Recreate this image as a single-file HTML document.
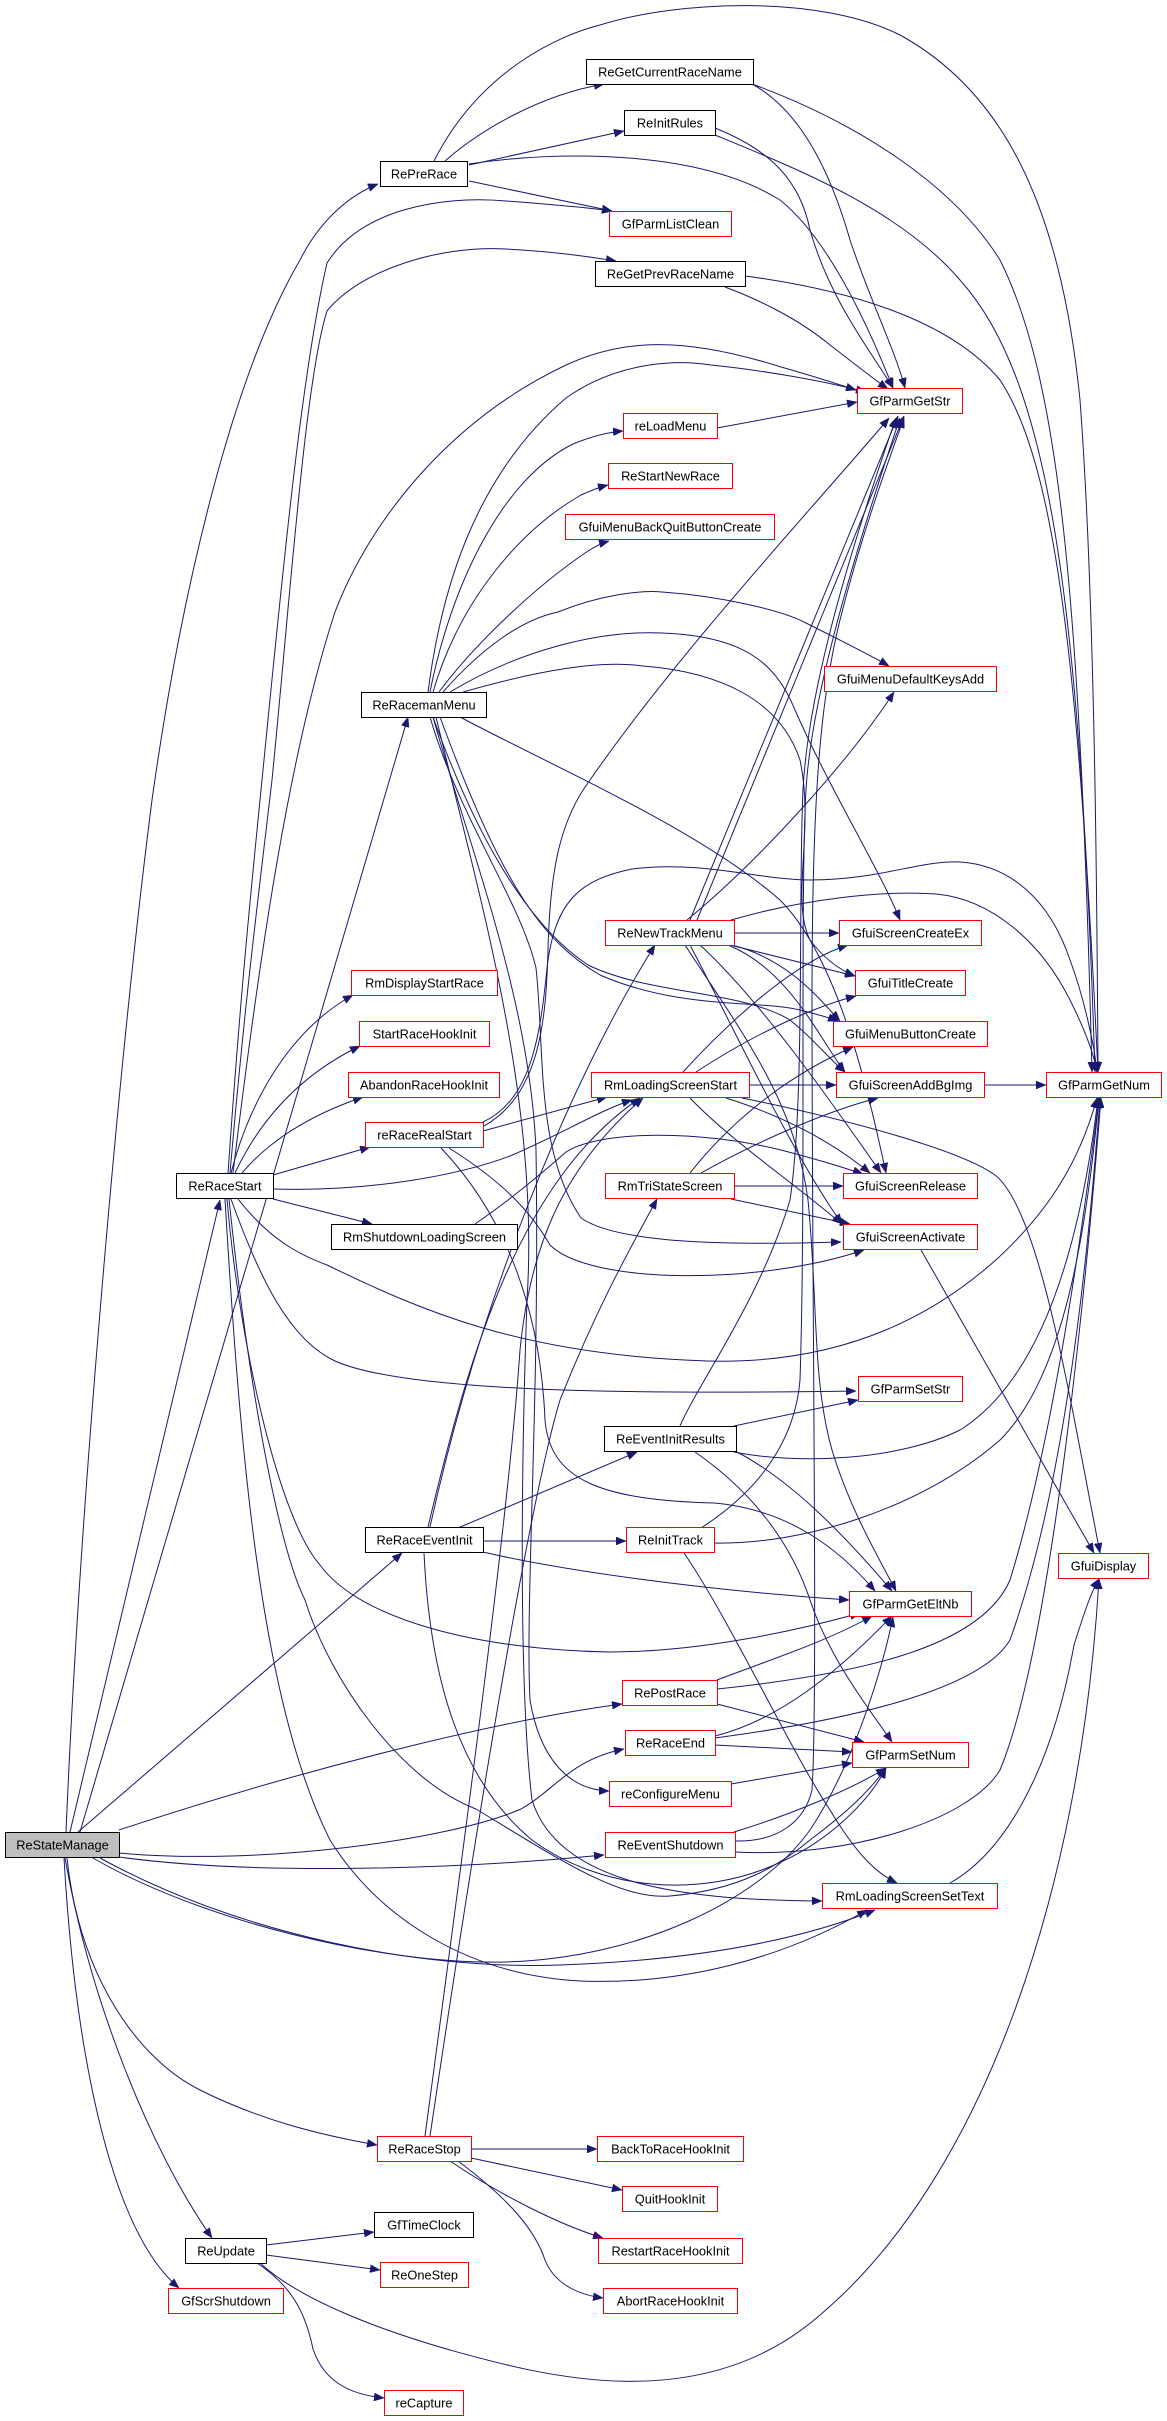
<!DOCTYPE html>
<html><head><meta charset="utf-8"><style>
html,body{margin:0;padding:0;background:#fff;}
svg{display:block;}
.e{fill:none;stroke:#191970;stroke-width:1;marker-end:url(#a);}
.n rect{fill:#fff;stroke-width:1;}
.r rect{stroke:#ff0000;}
.b rect{stroke:#000;}
text{font-family:"Liberation Sans",Helvetica,Arial,sans-serif;font-size:12.8px;text-anchor:middle;fill:#000;}
</style></head><body>
<svg width="1167" height="2421" viewBox="0 0 1167 2421" xmlns="http://www.w3.org/2000/svg">
<defs><marker id="a" markerUnits="userSpaceOnUse" markerWidth="10" markerHeight="8" refX="10" refY="4" orient="auto"><path d="M0,0 L10,4 L0,8 z" fill="#191970" stroke="#191970" stroke-width="0.5"/></marker></defs>
<g>
<!-- RePreRace -->
<path class="e" d="M445,161 C480,130 540,95 604,84"/>
<path class="e" d="M469,165 L624,131"/>
<path class="e" d="M469,181 L612,211"/>
<path class="e" d="M469,164 C560,150 700,150 780,200 C830,240 870,330 893,388"/>
<path class="e" d="M434,161 C480,70 560,35 600,25 C680,0 820,-5 900,35 C1000,90 1060,200 1080,400 C1095,600 1097,900 1098,1072"/>
<!-- ReGetCurrentRaceName -->
<path class="e" d="M752,84 C800,110 830,170 850,240 C870,300 895,350 905,388"/>
<path class="e" d="M752,84 C850,120 950,180 1000,260 C1060,380 1080,600 1092,1072"/>
<!-- ReInitRules -->
<path class="e" d="M715,128 C770,150 800,180 810,230 C830,300 870,350 893,388"/>
<path class="e" d="M715,135 C800,170 900,210 960,280 C1050,380 1080,600 1095,1072"/>
<!-- ReGetPrevRaceName -->
<path class="e" d="M725,287 C760,300 800,320 830,345 C860,368 875,380 888,389"/>
<path class="e" d="M745,276 C850,290 950,320 1000,380 C1060,470 1080,700 1098,1072"/>
<!-- reLoadMenu -->
<path class="e" d="M717,428 L857,402"/>
<!-- ReRacemanMenu -->
<path class="e" d="M428,692 C440,600 470,480 566,398 C620,360 680,360 711,365 C760,370 820,380 866,392"/>
<path class="e" d="M430,692 C450,590 500,480 573,444 C595,435 610,432 623,431"/>
<path class="e" d="M433,692 C460,600 520,530 581,495 C595,489 600,487 608,485"/>
<path class="e" d="M439,692 C470,650 530,590 588,551 C596,546 602,543 609,541"/>
<path class="e" d="M443,692 C480,650 520,620 558,612 C600,595 640,590 662,592 C720,596 780,610 804,622 C840,640 870,655 889,666"/>
<path class="e" d="M450,692 C520,650 600,630 662,633 C740,636 775,660 795,710 C830,790 880,870 900,920"/>
<path class="e" d="M463,692 C540,670 600,660 643,666 C720,672 780,700 800,760 C815,830 790,900 810,940 C825,960 840,970 855,976"/>
<path class="e" d="M460,717 C560,770 700,830 780,900 C840,960 870,1100 886,1173"/>
<path class="e" d="M430,717 C460,820 520,900 536,968 C545,1050 535,1150 581,1218 C620,1245 740,1245 841,1242"/>
<path class="e" d="M433,717 C470,850 530,1000 536,1150 C540,1400 525,1600 530,1700 C540,1760 570,1790 609,1791"/>
<path class="e" d="M436,717 C480,900 540,1100 527,1300 C520,1500 520,1700 532,1800 C560,1890 700,1900 822,1901"/>
<path class="e" d="M433,717 C470,820 520,920 588,965 C650,995 740,990 790,1020 C815,1040 830,1060 845,1072"/>
<path class="e" d="M440,717 C500,880 540,940 600,975 C680,1010 760,1000 800,1010 C820,1015 830,1018 838,1021"/>
<!-- ReRaceStart -->
<path class="e" d="M228,1173 C240,1000 250,900 262,780 C280,600 300,380 327,263 C360,210 440,195 506,201 C560,205 590,208 612,211"/>
<path class="e" d="M230,1173 C245,1000 258,900 272,780 C290,600 305,380 327,311 C360,270 440,245 506,249 C560,252 590,257 616,261"/>
<path class="e" d="M233,1173 C260,950 290,750 335,612 C370,520 450,420 566,365 C620,340 680,335 781,367 C820,378 840,385 856,390"/>
<path class="e" d="M231,1173 C250,1100 290,1030 353,995"/>
<path class="e" d="M235,1173 C260,1120 300,1075 360,1046"/>
<path class="e" d="M242,1173 C270,1140 310,1115 363,1097"/>
<path class="e" d="M273,1175 L370,1147"/>
<path class="e" d="M273,1189 C370,1192 460,1175 510,1156 C560,1135 600,1110 632,1100"/>
<path class="e" d="M273,1199 L372,1224"/>
<path class="e" d="M238,1199 C270,1240 300,1255 327,1265 C420,1310 520,1355 707,1361 C850,1365 940,1310 997,1259 C1050,1210 1080,1160 1097,1098"/>
<path class="e" d="M231,1199 C260,1280 290,1340 335,1361 C400,1390 600,1395 856,1391"/>
<path class="e" d="M227,1199 C240,1350 280,1520 320,1565 C360,1620 480,1650 610,1652 C700,1652 800,1630 860,1613"/>
<path class="e" d="M229,1199 C250,1400 280,1550 305,1600 C330,1680 400,1780 476,1809 C560,1860 620,1900 670,1896 C740,1890 780,1865 810,1840 C850,1810 870,1790 886,1768"/>
<path class="e" d="M225,1199 C240,1450 260,1700 330,1840 C380,1920 470,1975 580,1981 C680,1985 780,1960 867,1910"/>
<!-- ReStateManage -->
<path class="e" d="M66,1832 C80,1500 120,1050 152,800 C180,600 230,380 300,260 C320,220 350,195 378,184"/>
<path class="e" d="M70,1832 L220,1200"/>
<path class="e" d="M80,1832 L408,717"/>
<path class="e" d="M78,1832 L402,1553"/>
<path class="e" d="M119,1830 C300,1770 500,1720 622,1704"/>
<path class="e" d="M119,1853 C260,1866 450,1840 521,1809 C555,1790 570,1760 624,1749"/>
<path class="e" d="M119,1857 C250,1875 450,1870 604,1855"/>
<path class="e" d="M93,1858 C200,1920 380,1965 506,1962 C640,1958 760,1900 810,1830 C850,1770 880,1680 893,1617"/>
<path class="e" d="M100,1858 C240,1935 420,1970 560,1965 C700,1960 800,1940 875,1910"/>
<path class="e" d="M67,1858 C80,1980 140,2060 200,2090 C260,2120 320,2135 377,2145"/>
<path class="e" d="M65,1858 C90,2000 150,2150 212,2238"/>
<path class="e" d="M64,1858 C75,2050 110,2230 179,2288"/>
<!-- ReUpdate -->
<path class="e" d="M266,2245 L374,2232"/>
<path class="e" d="M266,2255 L380,2270"/>
<path class="e" d="M257,2263 C290,2285 305,2310 313,2349 C325,2385 355,2395 384,2398"/>
<path class="e" d="M260,2263 C300,2300 380,2330 450,2350 C540,2375 700,2420 820,2315 C980,2180 1080,1900 1099,1579"/>
<!-- ReRaceStop -->
<path class="e" d="M471,2149 L597,2149"/>
<path class="e" d="M471,2158 L622,2190"/>
<path class="e" d="M450,2161 C500,2195 560,2225 603,2238"/>
<path class="e" d="M458,2161 C510,2200 535,2230 545,2260 C555,2285 580,2295 603,2298"/>
<path class="e" d="M430,2136 C480,1800 530,1500 560,1400 C600,1300 635,1240 657,1199"/>
<path class="e" d="M425,2136 C470,1800 510,1500 520,1350 C530,1250 560,1170 643,1098"/>
<!-- reRaceRealStart -->
<path class="e" d="M483,1131 L607,1097"/>
<path class="e" d="M484,1126 C540,1095 546,1020 548,950 C550,870 560,820 590,780 C680,650 820,500 889,418"/>
<path class="e" d="M483,1122 C530,1100 540,1040 547,968 C555,900 580,880 632,869 C700,860 760,880 810,880 C880,880 920,860 960,862 C1010,865 1050,900 1070,960 C1085,1000 1095,1050 1097,1072"/>
<path class="e" d="M441,1148 C500,1210 540,1300 545,1420 C550,1480 600,1500 715,1503 C790,1510 840,1550 875,1591"/>
<path class="e" d="M449,1148 C500,1180 530,1210 550,1245 C590,1285 760,1285 864,1250"/>
<!-- RmShutdownLoadingScreen -->
<path class="e" d="M475,1224 C510,1200 540,1175 566,1152 C600,1130 700,1130 781,1150 C820,1160 845,1168 863,1174"/>
<!-- RmLoadingScreenStart -->
<path class="e" d="M683,1072 C740,1010 800,960 848,945"/>
<path class="e" d="M696,1072 C760,1030 820,1005 856,996"/>
<path class="e" d="M749,1085 L836,1085"/>
<path class="e" d="M726,1098 C780,1115 830,1140 870,1173"/>
<path class="e" d="M690,1098 C730,1140 790,1180 842,1224"/>
<path class="e" d="M742,1098 C850,1120 960,1150 995,1175 C1040,1210 1070,1400 1100,1553"/>
<!-- RmTriStateScreen -->
<path class="e" d="M690,1173 C740,1110 800,1070 853,1047"/>
<path class="e" d="M701,1173 C760,1140 830,1110 878,1098"/>
<path class="e" d="M735,1186 L843,1186"/>
<path class="e" d="M731,1199 L850,1224"/>
<!-- ReNewTrackMenu -->
<path class="e" d="M734,933 L839,933"/>
<path class="e" d="M730,945 L855,976"/>
<path class="e" d="M732,945 C790,960 820,1000 840,1021"/>
<path class="e" d="M728,945 C790,970 820,1040 845,1072"/>
<path class="e" d="M700,945 C760,1000 830,1100 881,1173"/>
<path class="e" d="M690,945 C740,1040 790,1150 842,1224"/>
<path class="e" d="M685,945 C740,1030 795,1100 808,1200 C818,1300 812,1380 832,1450 C850,1510 880,1560 896,1591"/>
<path class="e" d="M687,920 C760,860 850,760 894,692"/>
<path class="e" d="M690,920 L898,416"/>
<path class="e" d="M697,920 L904,416"/>
<path class="e" d="M731,920 C800,900 880,890 936,894 C990,899 1040,940 1070,1000 C1085,1030 1094,1055 1097,1072"/>
<!-- ReEventInitResults -->
<path class="e" d="M734,1426 L858,1400"/>
<path class="e" d="M734,1452 C800,1465 900,1460 960,1430 C1040,1380 1080,1250 1098,1098"/>
<path class="e" d="M737,1452 C790,1480 840,1530 892,1591"/>
<path class="e" d="M695,1452 C750,1490 790,1540 810,1600 C830,1660 870,1710 892,1742"/>
<path class="e" d="M680,1426 C700,1380 760,1300 790,1200 C805,1100 798,900 803,790 C808,690 850,550 896,418"/>
<!-- ReInitTrack -->
<path class="e" d="M701,1528 C760,1490 795,1440 800,1380 C806,1200 800,900 806,790 C811,700 852,560 900,418"/>
<path class="e" d="M714,1543 C800,1545 920,1510 1000,1440 C1060,1380 1085,1250 1099,1098"/>
<path class="e" d="M684,1553 C730,1620 790,1750 830,1810 C860,1860 880,1875 897,1883"/>
<!-- ReRaceEventInit -->
<path class="e" d="M458,1528 L637,1452"/>
<path class="e" d="M483,1541 L626,1541"/>
<path class="e" d="M483,1552 C560,1570 700,1590 849,1600"/>
<path class="e" d="M424,1553 C430,1680 460,1780 532,1840 C600,1890 700,1900 781,1862 C830,1840 870,1800 886,1768"/>
<path class="e" d="M430,1527 C480,1300 570,1080 655,945"/>
<path class="e" d="M428,1527 C470,1350 520,1180 640,1098"/>
<!-- RePostRace -->
<path class="e" d="M717,1680 C770,1660 830,1640 872,1616"/>
<path class="e" d="M717,1689 C850,1675 980,1650 1010,1580 C1050,1450 1080,1250 1099,1098"/>
<path class="e" d="M717,1704 L864,1742"/>
<!-- ReRaceEnd -->
<path class="e" d="M715,1736 C780,1720 840,1670 892,1616"/>
<path class="e" d="M715,1738 C850,1720 980,1690 1010,1640 C1060,1500 1085,1300 1100,1098"/>
<path class="e" d="M715,1745 L852,1752"/>
<!-- reConfigureMenu -->
<path class="e" d="M731,1784 L852,1763"/>
<!-- ReEventShutdown -->
<path class="e" d="M734,1832 C790,1815 850,1790 886,1768"/>
<path class="e" d="M735,1841 C780,1842 805,1820 812,1790 C818,1700 812,1300 812,1000 C812,800 820,700 840,620 C860,540 885,470 904,418"/>
<path class="e" d="M735,1852 C850,1858 970,1820 1000,1770 C1050,1650 1085,1300 1101,1098"/>
<!-- misc -->
<path class="e" d="M950,1883 C1000,1855 1050,1780 1074,1645 C1085,1610 1092,1590 1099,1579"/>
<path class="e" d="M921,1250 L1094,1553"/>
<path class="e" d="M984,1085 L1046,1085"/>
</g>
<g class="n">
<g class="b"><rect x="586.5" y="59.5" width="167" height="25"/><text x="670" y="76.5">ReGetCurrentRaceName</text></g>
<g class="b"><rect x="624.5" y="110.5" width="91" height="25"/><text x="670" y="127.5">ReInitRules</text></g>
<g class="b"><rect x="380.5" y="161.5" width="87" height="25"/><text x="424" y="178.5">RePreRace</text></g>
<g class="r"><rect x="609.5" y="211.5" width="122" height="25"/><text x="670.5" y="228.5">GfParmListClean</text></g>
<g class="b"><rect x="595.5" y="261.5" width="150" height="25"/><text x="670.5" y="278.5">ReGetPrevRaceName</text></g>
<g class="r"><rect x="857.5" y="388.5" width="105" height="25"/><text x="910" y="405.5">GfParmGetStr</text></g>
<g class="r"><rect x="623.5" y="413.5" width="94" height="25"/><text x="670.5" y="430.5">reLoadMenu</text></g>
<g class="r"><rect x="608.5" y="463.5" width="124" height="25"/><text x="670.5" y="480.5">ReStartNewRace</text></g>
<g class="r"><rect x="565.5" y="514.5" width="209" height="25"/><text x="670" y="531.5">GfuiMenuBackQuitButtonCreate</text></g>
<g class="r"><rect x="824.5" y="666.5" width="172" height="25"/><text x="910.5" y="683.5">GfuiMenuDefaultKeysAdd</text></g>
<g class="b"><rect x="361.5" y="692.5" width="125" height="25"/><text x="424" y="709.5">ReRacemanMenu</text></g>
<g class="r"><rect x="605.5" y="920.5" width="129" height="25"/><text x="670" y="937.5">ReNewTrackMenu</text></g>
<g class="r"><rect x="839.5" y="920.5" width="142" height="25"/><text x="910.5" y="937.5">GfuiScreenCreateEx</text></g>
<g class="r"><rect x="351.5" y="970.5" width="146" height="25"/><text x="424.5" y="987.5">RmDisplayStartRace</text></g>
<g class="r"><rect x="855.5" y="970.5" width="110" height="25"/><text x="910.5" y="987.5">GfuiTitleCreate</text></g>
<g class="r"><rect x="359.5" y="1021.5" width="130" height="25"/><text x="424.5" y="1038.5">StartRaceHookInit</text></g>
<g class="r"><rect x="833.5" y="1021.5" width="154" height="25"/><text x="910.5" y="1038.5">GfuiMenuButtonCreate</text></g>
<g class="r"><rect x="348.5" y="1072.5" width="151" height="25"/><text x="424" y="1089.5">AbandonRaceHookInit</text></g>
<g class="r"><rect x="591.5" y="1072.5" width="158" height="25"/><text x="670.5" y="1089.5">RmLoadingScreenStart</text></g>
<g class="r"><rect x="836.5" y="1072.5" width="148" height="25"/><text x="910.5" y="1089.5">GfuiScreenAddBgImg</text></g>
<g class="r"><rect x="1046.5" y="1072.5" width="115" height="25"/><text x="1104" y="1089.5">GfParmGetNum</text></g>
<g class="r"><rect x="365.5" y="1122.5" width="118" height="25"/><text x="424.5" y="1139.5">reRaceRealStart</text></g>
<g class="b"><rect x="176.5" y="1173.5" width="97" height="25"/><text x="225" y="1190.5">ReRaceStart</text></g>
<g class="r"><rect x="605.5" y="1173.5" width="129" height="25"/><text x="670" y="1190.5">RmTriStateScreen</text></g>
<g class="r"><rect x="843.5" y="1173.5" width="134" height="25"/><text x="910.5" y="1190.5">GfuiScreenRelease</text></g>
<g class="b"><rect x="331.5" y="1224.5" width="186" height="25"/><text x="424.5" y="1241.5">RmShutdownLoadingScreen</text></g>
<g class="r"><rect x="843.5" y="1224.5" width="134" height="25"/><text x="910.5" y="1241.5">GfuiScreenActivate</text></g>
<g class="r"><rect x="858.5" y="1376.5" width="104" height="25"/><text x="910.5" y="1393.5">GfParmSetStr</text></g>
<g class="b"><rect x="604.5" y="1426.5" width="132" height="25"/><text x="670.5" y="1443.5">ReEventInitResults</text></g>
<g class="b"><rect x="365.5" y="1527.5" width="118" height="25"/><text x="424.5" y="1544.5">ReRaceEventInit</text></g>
<g class="r"><rect x="626.5" y="1527.5" width="88" height="25"/><text x="670.5" y="1544.5">ReInitTrack</text></g>
<g class="r"><rect x="1058.5" y="1553.5" width="90" height="25"/><text x="1103.5" y="1570.5">GfuiDisplay</text></g>
<g class="r"><rect x="849.5" y="1591.5" width="122" height="25"/><text x="910.5" y="1608.5">GfParmGetEltNb</text></g>
<g class="r"><rect x="622.5" y="1680.5" width="95" height="25"/><text x="670" y="1697.5">RePostRace</text></g>
<g class="r"><rect x="625.5" y="1730.5" width="90" height="25"/><text x="670.5" y="1747.5">ReRaceEnd</text></g>
<g class="r"><rect x="852.5" y="1742.5" width="116" height="25"/><text x="910.5" y="1759.5">GfParmSetNum</text></g>
<g class="r"><rect x="609.5" y="1781.5" width="122" height="25"/><text x="670.5" y="1798.5">reConfigureMenu</text></g>
<g class="b"><rect x="5.5" y="1832.5" width="114" height="25" style="fill:#bfbfbf"/><text x="62.5" y="1849.5">ReStateManage</text></g>
<g class="r"><rect x="605.5" y="1832.5" width="130" height="25"/><text x="670.5" y="1849.5">ReEventShutdown</text></g>
<g class="r"><rect x="822.5" y="1883.5" width="175" height="25"/><text x="910" y="1900.5">RmLoadingScreenSetText</text></g>
<g class="r"><rect x="377.5" y="2136.5" width="94" height="25"/><text x="424.5" y="2153.5">ReRaceStop</text></g>
<g class="r"><rect x="597.5" y="2136.5" width="146" height="25"/><text x="670.5" y="2153.5">BackToRaceHookInit</text></g>
<g class="r"><rect x="622.5" y="2186.5" width="95" height="25"/><text x="670" y="2203.5">QuitHookInit</text></g>
<g class="b"><rect x="374.5" y="2212.5" width="99" height="25"/><text x="424" y="2229.5">GfTimeClock</text></g>
<g class="b"><rect x="185.5" y="2238.5" width="81" height="25"/><text x="226" y="2255.5">ReUpdate</text></g>
<g class="r"><rect x="598.5" y="2238.5" width="144" height="25"/><text x="670.5" y="2255.5">RestartRaceHookInit</text></g>
<g class="r"><rect x="380.5" y="2262.5" width="88" height="25"/><text x="424.5" y="2279.5">ReOneStep</text></g>
<g class="r"><rect x="168.5" y="2288.5" width="115" height="25"/><text x="226" y="2305.5">GfScrShutdown</text></g>
<g class="r"><rect x="603.5" y="2288.5" width="134" height="25"/><text x="670.5" y="2305.5">AbortRaceHookInit</text></g>
<g class="r"><rect x="384.5" y="2390.5" width="79" height="25"/><text x="424" y="2407.5">reCapture</text></g>
</g>
</svg>
</body></html>
